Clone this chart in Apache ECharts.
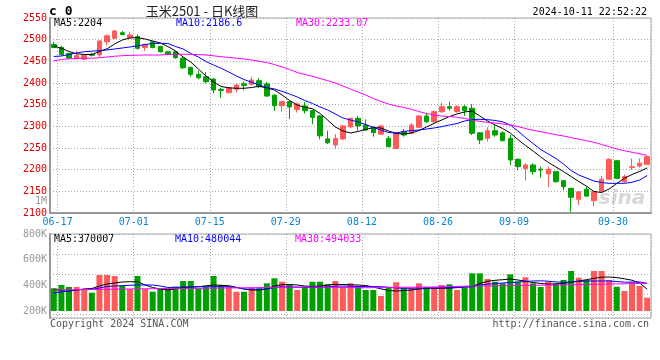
<!DOCTYPE html>
<html>
<head>
<meta charset="utf-8">
<script src="https://cdn.jsdelivr.net/npm/echarts/dist/echarts.min.js"></script>
<style>
html,body{margin:0;padding:0;background:#fff;}
#chart{width:660px;height:360px;}
</style>
</head>
<body>
<div id="chart"></div>
<script>
const dates = ['06-14','06-17','06-18','06-19','06-20','06-21','06-24','06-25','06-26','06-27','06-28',
'07-01','07-02','07-03','07-04','07-05','07-08','07-09','07-10','07-11','07-12','07-15','07-16','07-17','07-18','07-19',
'07-22','07-23','07-24','07-25','07-26','07-29','07-30','07-31',
'08-01','08-02','08-05','08-06','08-07','08-08','08-09','08-12','08-13','08-14','08-15','08-16','08-19','08-20','08-21','08-22','08-23',
'08-26','08-27','08-28','08-29','08-30',
'09-02','09-03','09-04','09-05','09-06','09-09','09-10','09-11','09-12','09-13','09-18','09-19','09-20',
'09-23','09-24','09-25','09-26','09-27','09-30','10-08','10-09','10-10','10-11'];

const labelDates = ['06-17','07-01','07-15','07-29','08-12','08-26','09-09','09-30'];

// [open, close, low, high]
const candles = [
[2489,2482,2480,2495],[2482,2466,2463,2486],[2468,2457,2455,2470],[2457,2463,2455,2474],[2455,2464,2453,2466],
[2466,2464,2461,2470],[2465,2497,2460,2499],[2495,2509,2487,2512],[2503,2520,2501,2522],[2516,2512,2510,2520],
[2505,2511,2503,2518],[2507,2480,2477,2512],[2482,2489,2474,2491],[2495,2482,2480,2497],[2484,2472,2470,2486],
[2472,2466,2464,2474],[2472,2458.5,2456,2474],[2457,2435,2432,2460],[2436,2420,2414.5,2438],[2420,2412,2409,2428],
[2414.5,2403,2399,2425],[2409,2384,2376,2411],[2385,2382.5,2365,2389],[2377.6,2389,2376,2390],[2385.4,2395.4,2378,2397],
[2398.5,2394,2383,2403],[2397,2407,2394,2414],[2405.4,2391.5,2388,2411],[2398,2370,2368,2402],[2372,2347.6,2335.4,2374],
[2347.6,2357,2334,2359],[2357,2344.6,2317,2359],[2339,2351.5,2332,2355],[2347,2336,2330,2356],[2336,2321,2305,2338],
[2324,2278,2270,2326],[2271,2262,2259,2290],[2257,2272,2249,2282],[2271,2301,2268,2303],[2299,2318.5,2296,2320],
[2318.5,2301,2290,2324],[2303,2291.5,2290,2316],[2298,2285.4,2276,2300],[2282,2300.8,2280,2304],[2272.4,2253,2251.5,2277.7],
[2249,2285,2248,2287],[2287.6,2280,2276,2294],[2284,2303,2282,2308],[2297.8,2323.8,2296,2326],[2323.8,2310.7,2308,2331.5],
[2310.7,2333.8,2308,2336],[2333.8,2345.4,2331,2354.6],[2345.4,2341.6,2336,2357],[2333.8,2345.4,2332,2349],[2345.4,2336,2324,2349],
[2341.6,2284,2280,2351],[2285,2268.5,2259,2287],[2272.4,2290,2265,2298],[2290,2280,2276,2303],[2285,2267,2265,2288],
[2272.4,2222.3,2210.8,2280],[2224,2207,2199,2226],[2203,2210.8,2175,2214.6],[2210.8,2195.4,2188,2214.6],[2201,2199.2,2181.5,2207],
[2190,2201,2159,2207],[2195.4,2172.3,2170,2197],[2174.6,2160.8,2153,2176],[2157,2136.3,2103,2158],[2131.6,2149,2118.5,2150],
[2154.6,2139,2137,2162],[2128.4,2149.2,2116,2150],[2149.2,2177.8,2147,2185.4],[2177.8,2224,2176,2226],[2220.7,2180,2178,2222],
[2172.3,2184,2170,2189],[2205.4,2206.9,2199,2226],[2208.5,2215,2205,2226],[2212.4,2230,2210,2232]];

const ma5 = [2485.4,2480.1,2472.7,2467.4,2465.8,2465.8,2472.7,2478.9,2490,2499.2,
2503.8,2505,2501.5,2496.9,2492.3,2484.2,2473.8,2460,2448.5,2432.3,
2416.2,2402.3,2391.9,2388.9,2387.8,2387.8,2389.6,2392.4,2388.5,2383.8,
2372.3,2359.6,2349.2,2343.9,2340.5,2329.6,2314.6,2298.5,2289.2,2284.6,
2288.1,2292.7,2297.3,2296.2,2289.2,2283.5,2282.3,2284.6,2290.4,2298.5,
2307,2314.6,2322.7,2328.5,2333.1,2335.4,2323.8,2312.3,2303.1,2295,
2284.6,2269.6,2255.8,2243.1,2229.2,2216.7,2206.2,2195.6,2184.2,2172.7,
2162.3,2149.6,2147.3,2155.4,2168.1,2180.1,2188.8,2195.8,2204];

const ma10 = [2461.2,2462.3,2465.8,2469.2,2472.2,2473.4,2474.8,2476.2,2478.5,2480.8,
2483.1,2485.4,2488.8,2491.2,2491.6,2491.2,2484.2,2478.5,2468.1,2460,
2449.6,2441.5,2433.9,2425.4,2416.2,2408.1,2401.6,2395.4,2389.6,2386.2,
2380.8,2374.6,2367.7,2359.6,2352.7,2344.6,2337.7,2328.5,2319.2,2314.6,
2310,2304.2,2297.3,2291.5,2285.8,2284.6,2288.1,2290.4,2291.5,2293.8,
2296.2,2299.2,2303.1,2306.5,2312.3,2315.8,2316.2,2315.5,2313.5,2310.5,
2303.1,2289.2,2274.2,2260.4,2246.5,2236.2,2225.8,2213.1,2198.1,2187.7,
2180.8,2173.8,2170.4,2168.5,2168.5,2168.5,2170.8,2176,2186.6];

const ma30 = [2451.2,2454.2,2455.8,2456.5,2457,2457.2,2458.4,2460,2461.8,2463,
2463.7,2464.2,2464.6,2464.6,2464.6,2465.8,2466.2,2466.2,2466.2,2465.5,
2464.6,2462.8,2460.7,2459.1,2457.2,2455.4,2453.1,2450.1,2447.1,2442.7,
2436.9,2431.2,2424.2,2419.6,2415.5,2410.4,2405.3,2400,2393.1,2386.2,
2379.2,2372.3,2364.2,2357.3,2351.5,2346.9,2343.5,2339.3,2334.2,2329.4,
2326.2,2323.8,2322.5,2321.1,2318.1,2314.2,2311.2,2309.1,2307.7,2305.4,
2303.1,2299.4,2295,2290.8,2287.6,2284.2,2280.7,2277.7,2274,2270.3,
2266.8,2263.2,2258.1,2253,2247.7,2243.8,2240.1,2236.6,2233.07];

// volume in thousands
const volume = [376.9,402.6,387,387,363.6,342.6,480.5,480.5,472.7,397.1,
371.4,472.7,371.4,350.4,371.4,371.4,389.3,433.8,433.8,376.9,
389.3,472.7,402.6,389.3,350.4,350.4,381.6,376.9,415.8,454.8,
428.3,408,363.6,389.3,428.3,428.3,408,
433.8,389.3,415.8,394.8,363.6,363.6,316.9,381.6,423.6,381.6,
381.6,415.8,384.7,384.7,402.6,408,363.6,381.6,493.8,493.8,
449.3,428.3,415.8,486,428.3,462.6,415.8,387,428.3,415.8,
441.6,511.7,459.5,441.6,511.7,511.7,441.6,389.3,355.8,423.6,394.8,303.6];

const volMa5 = [371.4,355.8,355.8,363.6,371.4,375.3,394.8,410.4,418.2,426,
428.3,428.3,402.6,383.1,371.4,363.6,373.8,383.1,385.4,388.6,
396.4,402.6,400.3,397.1,384.7,371.4,363.6,363.6,371.4,394.8,
404.9,406.5,402.6,394.8,390.9,394.8,402.6,408,406.5,404.2,
402.6,398.7,387,373,359.7,355.8,359.7,363.6,371.4,376.9,
376.9,376.9,377.6,382.3,387,390.9,414.3,431.4,439.2,443.9,
449.3,441.6,432.2,422.1,414.3,409.6,410.4,415.1,423.6,433.8,
443.9,454,463.4,464.9,460.3,450.9,440,418.2,370];

const volMa10 = [340.3,348,355.8,363.6,369.1,369.1,379.2,390.9,394.8,397.1,
400.3,402.6,402.6,402.6,394.8,383.1,384.7,387,388.6,389.3,
389.3,389.3,389.3,389.3,383.1,371.4,369.1,369.9,371.4,383.1,
388.6,387,385.5,384.7,385.5,386.2,387,393.2,394.8,393.2,
391.7,390.9,390.1,389.3,385.5,379.2,376.9,377.7,378.4,379.2,
380,380.8,381.6,383.9,387,389.3,402.6,409.6,413.5,418.2,
422.1,426,429.9,433.8,435.3,432.2,426,423.6,426,430.6,
433.8,433.8,433.8,433.8,429.9,424.4,425.2,426.7,415.8];

const volMa30 = [363.6,364.4,365.2,366,366.7,367.5,368.3,369.1,369.9,370.6,
371.4,372.2,373,373.8,374.5,375.3,376.1,376.1,376.9,376.9,
377.7,378.4,379.2,379.2,380,380.8,381.6,382.3,383.1,383.9,
384.7,385.5,386.2,387,387,386.2,385.5,384.7,383.9,383.1,
382.3,381.6,381.6,382.3,383.1,383.9,384.7,385.5,386.2,387,
387,388.6,390.1,391.7,393.2,394,394.8,395.6,396.4,397.1,
397.9,398.7,399.5,400.3,401,401.8,402.6,403.4,404.2,405.7,
407.3,408,408.8,410.4,411.2,411.9,413.5,414.3,415.8];

const priceTicks = {min: 2100, max: 2550, step: 50};
const volTicks = {min: 200, max: 800, step: 200};

const UP = '#ff5a5a', DOWN = '#00a000';
const MONO = '"DejaVu Sans Mono", monospace';
const isLabel = (i, v) => labelDates.indexOf(v) >= 0;
const dotted = {color: '#aaa', type: [1, 2], width: 1};

const chart = echarts.init(document.getElementById('chart'), null, {renderer: 'canvas'});

const option = {
  animation: false,
  backgroundColor: '#fff',
  grid: [
    {left: 50, top: 18, width: 601, height: 195, show: true, borderColor: '#aaa', borderWidth: 1},
    {left: 50, top: 234, width: 601, height: 77},
    {left: 50, top: 234, width: 601, height: 84, show: true, borderColor: '#aaa', borderWidth: 1}
  ],
  xAxis: [
    {gridIndex: 0, type: 'category', data: dates, boundaryGap: true,
     axisLine: {lineStyle: {color: '#999', width: 2}}, axisTick: {show: false},
     axisLabel: {interval: isLabel, color: '#0a84d6', fontFamily: MONO, fontSize: 10, margin: 4, padding: [0, 7.6, 0, 0]},
     splitLine: {show: true, interval: isLabel, lineStyle: dotted}},
    {gridIndex: 1, type: 'category', data: dates, boundaryGap: true,
     axisLine: {show: false}, axisTick: {show: false}, axisLabel: {show: false}, splitLine: {show: false}},
    {gridIndex: 2, type: 'category', data: dates, boundaryGap: true,
     axisLine: {show: false}, axisTick: {show: false}, axisLabel: {show: false},
     splitLine: {show: true, interval: isLabel, lineStyle: dotted}}
  ],
  yAxis: [
    {gridIndex: 0, type: 'value', min: priceTicks.min, max: priceTicks.max, interval: priceTicks.step,
     axisLine: {show: true, lineStyle: {color: '#999', width: 2}}, axisTick: {show: false},
     axisLabel: {color: '#e00000', fontFamily: MONO, fontSize: 10, margin: 3, formatter: v => String(v)},
     splitLine: {show: true, lineStyle: dotted}},
    {gridIndex: 1, type: 'value', min: volTicks.min, max: volTicks.max, interval: volTicks.step,
     axisLine: {show: false}, axisTick: {show: false},
     axisLabel: {color: '#999', fontFamily: MONO, fontSize: 10, margin: 3, formatter: v => v + 'K'},
     splitLine: {show: false}},
    {gridIndex: 2, type: 'value', min: 0, max: 84, interval: 20, inverse: true,
     axisLine: {show: true, lineStyle: {color: '#999', width: 2}}, axisTick: {show: false},
     axisLabel: {show: false}, splitLine: {show: true, lineStyle: dotted}}
  ],
  series: [
    {type: 'candlestick', xAxisIndex: 0, yAxisIndex: 0, data: candles, barWidth: 5,
     itemStyle: {color: UP, color0: DOWN, borderColor: UP, borderColor0: DOWN, borderWidth: 1}},
    {type: 'line', xAxisIndex: 0, yAxisIndex: 0, data: ma5, symbol: 'none', lineStyle: {color: '#000', width: 1}},
    {type: 'line', xAxisIndex: 0, yAxisIndex: 0, data: ma10, symbol: 'none', lineStyle: {color: '#0000ff', width: 1}},
    {type: 'line', xAxisIndex: 0, yAxisIndex: 0, data: ma30, symbol: 'none', lineStyle: {color: '#ff00ff', width: 1}},
    {type: 'bar', xAxisIndex: 1, yAxisIndex: 1, data: volume, barWidth: 6,
     itemStyle: {color: p => (candles[p.dataIndex][1] >= candles[p.dataIndex][0] ? UP : DOWN)}},
    {type: 'line', xAxisIndex: 1, yAxisIndex: 1, data: volMa5, symbol: 'none', lineStyle: {color: '#000', width: 1}},
    {type: 'line', xAxisIndex: 1, yAxisIndex: 1, data: volMa10, symbol: 'none', lineStyle: {color: '#0000ff', width: 1}},
    {type: 'line', xAxisIndex: 1, yAxisIndex: 1, data: volMa30, symbol: 'none', lineStyle: {color: '#ff00ff', width: 1}}
  ],
  graphic: [
    {type: 'text', x: 49, y: 12, style: {text: 'c 0', font: 'bold 13px ' + MONO, fill: '#000', textVerticalAlign: 'middle'}},
    {type: 'text', x: 202, y: 11, style: {text: '玉米2501 - 日K线图', font: '13px "Noto Sans CJK SC", sans-serif', fill: '#222', textAlign: 'center', textVerticalAlign: 'middle'}},
    {type: 'text', x: 647, y: 12, style: {text: '2024-10-11 22:52:22', font: '10px ' + MONO, fill: '#000', textAlign: 'right', textVerticalAlign: 'middle'}},
    {type: 'text', x: 54, y: 23, style: {text: 'MA5:2204', font: '10px ' + MONO, fill: '#000', textVerticalAlign: 'middle'}},
    {type: 'text', x: 176, y: 23, style: {text: 'MA10:2186.6', font: '10px ' + MONO, fill: '#0000ff', textVerticalAlign: 'middle'}},
    {type: 'text', x: 296, y: 23, style: {text: 'MA30:2233.07', font: '10px ' + MONO, fill: '#ff00ff', textVerticalAlign: 'middle'}},
    {type: 'text', x: 47, y: 201, style: {text: '1M', font: '10px ' + MONO, fill: '#999', textAlign: 'right', textVerticalAlign: 'middle'}},
    {type: 'text', x: 54, y: 239, style: {text: 'MA5:370007', font: '10px ' + MONO, fill: '#000', textVerticalAlign: 'middle'}},
    {type: 'text', x: 175, y: 239, style: {text: 'MA10:480044', font: '10px ' + MONO, fill: '#0000ff', textVerticalAlign: 'middle'}},
    {type: 'text', x: 295, y: 239, style: {text: 'MA30:494033', font: '10px ' + MONO, fill: '#ff00ff', textVerticalAlign: 'middle'}},
    {type: 'text', x: 50, y: 324, style: {text: 'Copyright 2024 SINA.COM', font: '10px ' + MONO, fill: '#555', textVerticalAlign: 'middle'}},
    {type: 'text', x: 649, y: 324, style: {text: 'http://finance.sina.com.cn', font: '10px ' + MONO, fill: '#555', textAlign: 'right', textVerticalAlign: 'middle'}},
    {type: 'text', x: 622, y: 199, style: {text: 'sina', font: 'italic bold 20px "DejaVu Sans", sans-serif', fill: '#d8d8d8', textAlign: 'center', textVerticalAlign: 'middle'}}
  ]
};
chart.setOption(option);
</script>
</body>
</html>
